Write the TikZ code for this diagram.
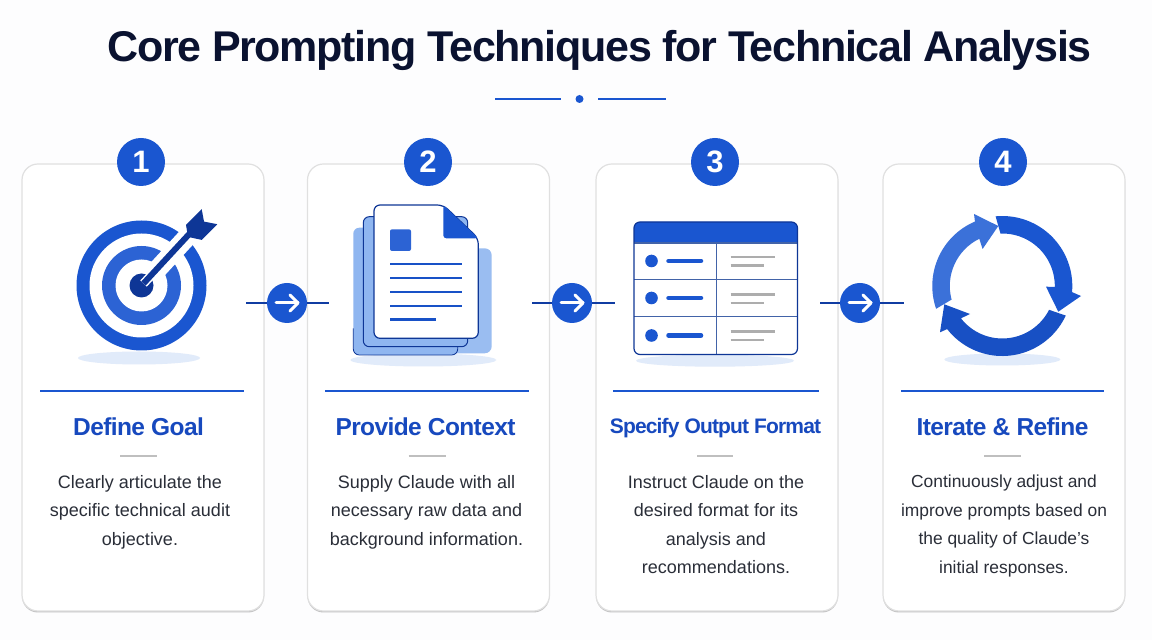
\documentclass[tikz,border=0pt]{standalone}
\usepackage{fontspec}
\setmainfont{Liberation Sans}
\newfontfamily\titlefont[LetterSpace=-2.95]{Liberation Sans}
\newfontfamily\headfont[LetterSpace=-2.5]{Liberation Sans}
\newfontfamily\narrowfont[LetterSpace=-4]{Liberation Sans}
\usetikzlibrary{calc, shadows, positioning, shapes.geometric}
\definecolor{brand}{HTML}{1A56D0}
\definecolor{navy}{HTML}{0E3696}
\definecolor{pale}{HTML}{E1EBFA}
\definecolor{sheet}{HTML}{8FB6F0}
\definecolor{ink}{HTML}{0A1230}
\definecolor{body}{HTML}{2A2E38}
\definecolor{headblue}{HTML}{1749BE}
\definecolor{paper}{HTML}{FDFDFE}
\tikzstyle{card} = [rectangle, rounded corners=16pt, minimum width=242pt, minimum height=447pt, draw=black!12, line width=1.2pt, fill=white, drop shadow={shadow xshift=0pt, shadow yshift=-1.5pt, opacity=0.4, fill=black!60}]
\tikzstyle{badge} = [circle, fill=brand, text=white, minimum size=48pt, inner sep=0pt, font=\fontsize{31}{31}\selectfont\bfseries]
\tikzstyle{nextbtn} = [circle, fill=brand, minimum size=40pt, inner sep=0pt]
\tikzstyle{nextarrow} = [white, line width=3pt, line cap=round, line join=round]
\tikzstyle{stub} = [navy!80!brand, line width=1.4pt]

\begin{document}
\begin{tikzpicture}[x=1pt, y=1pt,
		heading/.style={text=headblue, font=\headfont\fontsize{24.5}{25}\selectfont\bfseries},
		blurb/.style={text=body, align=center, font=\fontsize{18}{28.5}\selectfont},
		rulebar/.style={brand, line width=1.2pt},
		tick/.style={black!25, line width=1.3pt},
		floor/.style={fill=pale, draw=none},
		docline/.style={brand!85!navy, line width=2.4pt},
		greyline/.style={black!32, line width=2.8pt},
		rowbar/.style={brand, line width=4.5pt, line cap=round},
		gridline/.style={brand!70!black!80, line width=1.2pt}]

		\useasboundingbox (0,0) rectangle (1152,640);
		\fill[paper] (0,0) rectangle (1152,640);

		\node (title) at (599.5,590) [text=ink, font=\titlefont\fontsize{43}{43}\selectfont\bfseries] {Core Prompting Techniques for Technical Analysis};
		\node (dot) at (579.5,541) [circle, fill=brand, minimum size=8pt, inner sep=0pt] {};
		\draw[rulebar] ($(dot)+(-84.5,0)$) -- ($(dot)+(-18.5,0)$);
		\draw[rulebar] ($(dot)+(18.5,0)$) -- ($(dot)+(86.5,0)$);

		\node (card1) at (143,252.5) [card] {};
		\node (card2) [card, right of=card1, node distance=285.5pt] {};
		\node (card3) [card, right of=card2, node distance=288.5pt] {};
		\node (card4) [card, right of=card3, node distance=287pt] {};

		\node (badge1) at ($(card1)+(-2,225.5)$) [badge] {1};
		\node (badge2) at ($(card2)+(-0.5,225.5)$) [badge] {2};
		\node (badge3) at ($(card3)+(-2,225.5)$) [badge] {3};
		\node (badge4) at ($(card4)+(-1,225.5)$) [badge] {4};

		% target
		\coordinate (target) at ($(card1)+(-1.5,102)$);
		\node (floor1) at ($(target)+(-2.5,-72.5)$) [floor, ellipse, minimum width=122pt, minimum height=13pt] {};
		\begin{scope}[shift={(target)}]
			\fill[brand] (0,0) circle (65);
			\fill[white] (0,0) circle (52);
			\fill[brand!92!white] (0,0) circle (39.5);
			\fill[white] (0,0) circle (26);
			\draw[white, line width=19pt] (13,13) -- (53,56.5);
			\fill[navy] (0,0) circle (12);
			\draw[white, line width=9pt] (2,2) -- (14,14.5);
			\draw[navy, line width=6pt] (2,2) -- (48.5,52.3);
			\fill[navy] (44.5,60.6) -- (60.2,76.3) -- (62.5,63.9) -- (75.8,61.3) -- (60.2,45.6) -- (46.5,48.6) -- cycle;
		\end{scope}

		% stacked pages
		\coordinate (pages) at ($(card2)+(-2,119)$);
		\node (floor2) at ($(pages)+(-3.2,-91.5)$) [floor, ellipse, minimum width=146pt, minimum height=13pt] {};
		\begin{scope}[shift={(pages)}]
			\fill[sheet!90!white, rounded corners=7pt] (20,-84.8) rectangle (65.2,20.2);
			\fill[sheet, rounded corners=6pt] (-73.2,-86.5) rectangle (31.2,40.8);
			\draw[navy, line width=0.8pt, rounded corners=6pt] (-73.2,-60) -- (-73.2,-86.5) -- (31.2,-86.5) -- (31.2,-78);
			\draw[navy, fill=sheet, rounded corners=6pt, line width=1pt] (-63.2,-78.2) rectangle (41.2,51.8);
			\draw[navy, fill=white, rounded corners=6pt, line width=1.2pt] (-52.5,-69.8) -- (-52.5,63.5) -- (16.8,63.5) -- (51.8,30.2) -- (51.8,-69.8) -- cycle;
			\fill[brand, rounded corners=3pt] (16.8,63.5) -- (16.8,30.2) -- (51.8,30.2) -- cycle;
			\fill[brand!92!white, rounded corners=2pt] (-36.5,17.5) rectangle (-15.5,39.2);
			\draw[docline] (-36.5,4.2) -- (35.2,4.2);
			\draw[docline] (-36.5,-9.8) -- (35.2,-9.8);
			\draw[docline] (-36.5,-23.5) -- (35.2,-23.5);
			\draw[docline] (-36.5,-37.5) -- (35.2,-37.5);
			\draw[docline] (-36.5,-51.2) -- (9.5,-51.2);
		\end{scope}

		% table
		\coordinate (table) at ($(card3)+(-1,99.5)$);
		\node (floor3) at ($(table)+(-1,-72.7)$) [floor, ellipse, minimum width=158pt, minimum height=12pt] {};
		\begin{scope}[shift={(table)}]
			\fill[white, rounded corners=6pt] (-82,-66.5) rectangle (81.5,66);
			\fill[brand] (-82,45) {[rounded corners=6pt] -- (-82,66) -- (81.5,66)} -- (81.5,45) -- cycle;
			\draw[gridline] (-82,45) -- (81.5,45);
			\draw[gridline] (-82,8.5) -- (81.5,8.5);
			\draw[gridline] (-82,-28.5) -- (81.5,-28.5);
			\draw[gridline] (0.5,45) -- (0.5,-66.5);
			\draw[navy, rounded corners=6pt, line width=1.2pt] (-82,-66.5) rectangle (81.5,66);
			\fill[brand] (-64.5,27) circle (6.3);
			\fill[brand] (-64.5,-10) circle (6.3);
			\fill[brand] (-64.5,-47.5) circle (6.3);
			\draw[rowbar] (-47.5,27) -- (-15,27);
			\draw[rowbar] (-47.5,-10) -- (-15,-10);
			\draw[rowbar] (-47.5,-47.5) -- (-15,-47.5);
			\draw[greyline] (14.5,31) -- (59,31);
			\draw[greyline] (14.5,22.5) -- (48,22.5);
			\draw[greyline] (14.5,-6.5) -- (59,-6.5);
			\draw[greyline] (14.5,-15) -- (48,-15);
			\draw[greyline] (14.5,-43.5) -- (59,-43.5);
			\draw[greyline] (14.5,-52) -- (48,-52);
		\end{scope}

		% cycle
		\coordinate (cycle) at ($(card4)+(-1.7,101.5)$);
		\node (floor4) at ($(cycle)+(0,-73.5)$) [floor, ellipse, minimum width=116pt, minimum height=12pt] {};
		\begin{scope}[shift={(cycle)}]
			\fill[brand!72!sheet] (199:70) arc (199:113:70) -- (-28.3,72) -- (-4,60) -- (-19.7,37) -- (116:52.5) arc (116:195:52.5) -- cycle;
			\fill[brand] (95.5:70) arc (95.5:-5:70) -- (78.7,-10) -- (56,-25.7) -- (43.7,-0.7) -- (-1:52.5) arc (-1:92:52.5) -- cycle;
			\fill[brand!80!navy] (-25:70) arc (-25:-142:70) -- (-62.3,-46.3) -- (-58,-18.3) -- (-32.3,-28) -- (-142:52.5) arc (-142:-27:52.5) -- cycle;
		\end{scope}

		% connectors
		\node (next1) at (287,337) [nextbtn] {};
		\coordinate (from1) at ($(next1)+(-41,0)$);
		\coordinate (to1) at ($(next1)+(42,0)$);
		\draw[stub] (from1) -- (next1);
		\draw[stub] (next1) -- (to1);
		\draw[nextarrow] ($(next1)+(-11,0)$) -- ($(next1)+(11,0)$);
		\draw[nextarrow] ($(next1)+(3,8)$) -- ($(next1)+(11,0)$) -- ($(next1)+(3,-8)$);

		\node (next2) at (572,337) [nextbtn] {};
		\coordinate (from2) at ($(next2)+(-40,0)$);
		\coordinate (to2) at ($(next2)+(43,0)$);
		\draw[stub] (from2) -- (next2);
		\draw[stub] (next2) -- (to2);
		\draw[nextarrow] ($(next2)+(-11,0)$) -- ($(next2)+(11,0)$);
		\draw[nextarrow] ($(next2)+(3,8)$) -- ($(next2)+(11,0)$) -- ($(next2)+(3,-8)$);

		\node (next3) at (860,337) [nextbtn] {};
		\coordinate (from3) at ($(next3)+(-40,0)$);
		\coordinate (to3) at ($(next3)+(44,0)$);
		\draw[stub] (from3) -- (next3);
		\draw[stub] (next3) -- (to3);
		\draw[nextarrow] ($(next3)+(-11,0)$) -- ($(next3)+(11,0)$);
		\draw[nextarrow] ($(next3)+(3,8)$) -- ($(next3)+(11,0)$) -- ($(next3)+(3,-8)$);

		% captions
		\draw[rulebar] ($(card1)+(-103,-3.5)$) -- ($(card1)+(101,-3.5)$);
		\draw[rulebar] ($(card2)+(-103.5,-3.5)$) -- ($(card2)+(100.5,-3.5)$);
		\draw[rulebar] ($(card3)+(-104,-3.5)$) -- ($(card3)+(102,-3.5)$);
		\draw[rulebar] ($(card4)+(-103,-3.5)$) -- ($(card4)+(100,-3.5)$);

		\node (head1) at ($(card1)+(-4.5,-39.5)$) [heading] {Define Goal};
		\node (head2) at ($(card2)+(-3,-39.5)$) [heading] {Provide Context};
		\node (head3) at ($(card3)+(-1.5,-41)$) [heading, font=\narrowfont\fontsize{21}{21}\selectfont\bfseries] {Specify Output Format};
		\node (head4) at ($(card4)+(-1.5,-39.5)$) [heading] {Iterate \& Refine};

		\draw[tick] ($(card1)+(-23,-68.5)$) -- ($(card1)+(14,-68.5)$);
		\draw[tick] ($(card2)+(-20,-68.5)$) -- ($(card2)+(17,-68.5)$);
		\draw[tick] ($(card3)+(-20,-68.5)$) -- ($(card3)+(16,-68.5)$);
		\draw[tick] ($(card4)+(-20,-68.5)$) -- ($(card4)+(17,-68.5)$);

		\node (text1) [blurb, below=0pt of card1.center, xshift=-3pt, yshift=-84pt] {Clearly articulate the \\ specific technical audit \\ objective.};
		\node (text2) [blurb, below=0pt of card2.center, xshift=-2pt, yshift=-84pt] {Supply Claude with all \\ necessary raw data and \\ background information.};
		\node (text3) [blurb, below=0pt of card3.center, xshift=-1pt, yshift=-84pt] {Instruct Claude on the \\ desired format for its \\ analysis and \\ recommendations.};
		\node (text4) [blurb, below=0pt of card4.center, yshift=-84pt, font=\fontsize{17.4}{28.5}\selectfont] {Continuously adjust and \\ improve prompts based on \\ the quality of Claude's \\ initial responses.};
	\end{tikzpicture}
\end{document}
